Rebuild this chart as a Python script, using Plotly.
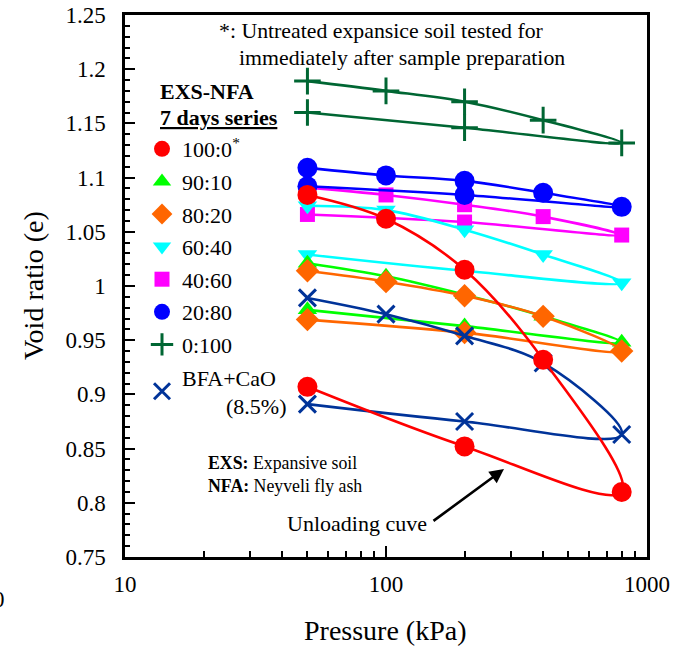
import plotly.graph_objects as go

# Consolidation test pressures: loading 50 -> 800 kPa, then unloading back to 50 kPa
pressure = [50, 100, 200, 400, 800, 200, 50]

# Void ratio for each EXS:NFA mix (7 days curing)
e_100_0 = [1.084, 1.062, 1.015, 0.932, 0.810, 0.852, 0.907]
e_90_10 = [1.021, 1.009, 0.992, 0.972, 0.948, 0.963, 0.978]
e_80_20 = [1.014, 1.004, 0.991, 0.972, 0.940, 0.957, 0.969]
e_60_40 = [1.074, 1.070, 1.052, 1.029, 1.003, 1.014, 1.029]
e_40_60 = [1.091, 1.084, 1.075, 1.064, 1.047, 1.059, 1.066]
e_20_80 = [1.109, 1.102, 1.097, 1.086, 1.073, 1.084, 1.092]
e_0_100 = [1.189, 1.180, 1.170, 1.153, 1.132, 1.146, 1.160]
e_bfa_cao = [0.989, 0.974, 0.954, 0.929, 0.863, 0.875, 0.891]

series_names = ["100:0<sup>*</sup>", "90:10", "80:20", "60:40", "40:60",
                "20:80", "0:100", "BFA+CaO<br>&nbsp;&nbsp;&nbsp;&nbsp;&nbsp;&nbsp;&nbsp;&nbsp;(8.5%)"]

y_tickvals = [0.75, 0.8, 0.85, 0.9, 0.95, 1.0, 1.05, 1.1, 1.15, 1.2, 1.25]
y_ticktext = ["0.75", "0.8", "0.85", "0.9", "0.95", "1", "1.05", "1.1", "1.15", "1.2", "1.25"]
x_tickvals = [10, 100, 1000]
x_ticktext = ["10", "100", "1000"]
x_minor = [20, 30, 40, 50, 60, 70, 80, 90, 200, 300, 400, 500, 600, 700, 800, 900]

FONT = "Liberation Serif"

# style per series: (values, color, symbol, size, outline width)
styles = {
    "100:0": (e_100_0, "#FF0000", "circle", 20, 0),
    "90:10": (e_90_10, "#00FF00", "triangle-up", 17, 0),
    "80:20": (e_80_20, "#FF6600", "diamond", 18, 0),
    "60:40": (e_60_40, "#00FFFF", "triangle-down", 17, 0),
    "40:60": (e_40_60, "#FF00FF", "square", 15, 0),
    "20:80": (e_20_80, "#0000FF", "circle", 20, 0),
    "0:100": (e_0_100, "#006633", "cross-thin", 19, 3),
    "BFA": (e_bfa_cao, "#003399", "x-thin", 17, 3),
}
keys = list(styles.keys())

fig = go.Figure()

# drawing order (later traces sit on top)
draw_order = ["0:100", "40:60", "20:80", "60:40", "90:10", "80:20", "BFA", "100:0"]
for k in draw_order:
    vals, col, sym, size, lw = styles[k]
    marker = dict(symbol=sym, size=size, color=col)
    if lw:
        marker["line"] = dict(color=col, width=lw)
    fig.add_trace(go.Scatter(
        x=pressure, y=vals, mode="lines+markers",
        line=dict(color=col, width=2.6, shape="spline", smoothing=1.0),
        marker=marker, showlegend=False, cliponaxis=False))

# legend entries (markers only)
for i, k in enumerate(keys):
    vals, col, sym, size, lw = styles[k]
    marker = dict(symbol=sym, size=size, color=col)
    if lw:
        marker["line"] = dict(color=col, width=lw)
    fig.add_trace(go.Scatter(
        x=[None], y=[None], mode="markers", marker=marker,
        name=series_names[i], legendgroup=f"g{i}", showlegend=True))

W, H = 679, 648
L, R, T, B = 125, 32, 15, 91
pw, ph = W - L - R, H - T - B


def px(x):
    return (x - L) / pw


def py(y):
    return (H - B - y) / ph


annotations = [
    dict(text="<b>EXS-NFA</b>", x=px(158), y=py(92), xanchor="left", yanchor="middle",
         font=dict(size=22)),
    dict(text="<b><u>7 days series</u></b>", x=px(158), y=py(118), xanchor="left",
         yanchor="middle", font=dict(size=22)),
    dict(text="*: Untreated expansice soil tested for", x=px(217), y=py(31),
         xanchor="left", yanchor="middle", font=dict(size=21.8)),
    dict(text="immediately after sample preparation", x=px(237), y=py(58),
         xanchor="left", yanchor="middle", font=dict(size=21.8)),
    dict(text="<b>EXS:</b> Expansive soil", x=px(206), y=py(463), xanchor="left",
         yanchor="middle", font=dict(size=17.8)),
    dict(text="<b>NFA:</b> Neyveli fly ash", x=px(206), y=py(486), xanchor="left",
         yanchor="middle", font=dict(size=17.8)),
    dict(text="Unloading cuve", x=px(429), y=py(523), xanchor="right",
         yanchor="middle", font=dict(size=22)),
    dict(text="0", x=px(7), y=py(599), xanchor="right", yanchor="middle",
         font=dict(size=23)),
    # axis titles
    dict(text="Pressure (kPa)", x=px(385), y=py(630), xanchor="center",
         yanchor="middle", font=dict(size=28)),
    dict(text="Void ratio (e)", x=px(33), y=py(286), xanchor="center",
         yanchor="middle", textangle=-90, font=dict(size=28)),
]
for a in annotations:
    a.update(xref="paper", yref="paper", showarrow=False)
    a["font"].update(family=FONT, color="black")

# arrow pointing at the unloading branch
annotations.append(dict(
    x=px(504), y=py(469), xref="paper", yref="paper",
    ax=-72, ay=53, axref="pixel", ayref="pixel", text="", showarrow=True,
    arrowhead=2, arrowsize=1.1, arrowwidth=2.6, arrowcolor="black"))

fig.update_layout(
    width=W, height=H,
    margin=dict(l=L, r=R, t=T, b=B, autoexpand=False),
    paper_bgcolor="white", plot_bgcolor="white",
    font=dict(family=FONT, color="black"),
    annotations=annotations,
    legend=dict(
        x=px(142), y=py(128), xanchor="left", yanchor="top",
        bgcolor="rgba(0,0,0,0)", font=dict(size=22, family=FONT, color="black"),
        traceorder="grouped", tracegroupgap=1, itemsizing="trace",
    ),
    showlegend=True,
)

fig.update_xaxes(
    type="log", range=[1, 3], automargin=False,
    tickvals=x_tickvals, ticktext=x_ticktext,
    ticks="inside", ticklen=11, tickwidth=2, tickcolor="black",
    minor=dict(tickvals=x_minor, ticks="inside", ticklen=6, tickwidth=1.5,
               tickcolor="black", showgrid=False),
    showline=True, linewidth=2.5, linecolor="black", mirror=True,
    showgrid=False, zeroline=False,
    tickfont=dict(size=23, family=FONT, color="black"), ticklabelstandoff=5,
)
fig.update_yaxes(
    range=[0.75, 1.25], automargin=False,
    tickvals=y_tickvals, ticktext=y_ticktext,
    ticks="inside", ticklen=10, tickwidth=2, tickcolor="black",
    minor=dict(dtick=0.01, ticks="inside", ticklen=5, tickwidth=1.5,
               tickcolor="black", showgrid=False),
    showline=True, linewidth=2.5, linecolor="black", mirror=True,
    showgrid=False, zeroline=False,
    tickfont=dict(size=23, family=FONT, color="black"), ticklabelstandoff=12,
)

fig.write_html("out.html")
